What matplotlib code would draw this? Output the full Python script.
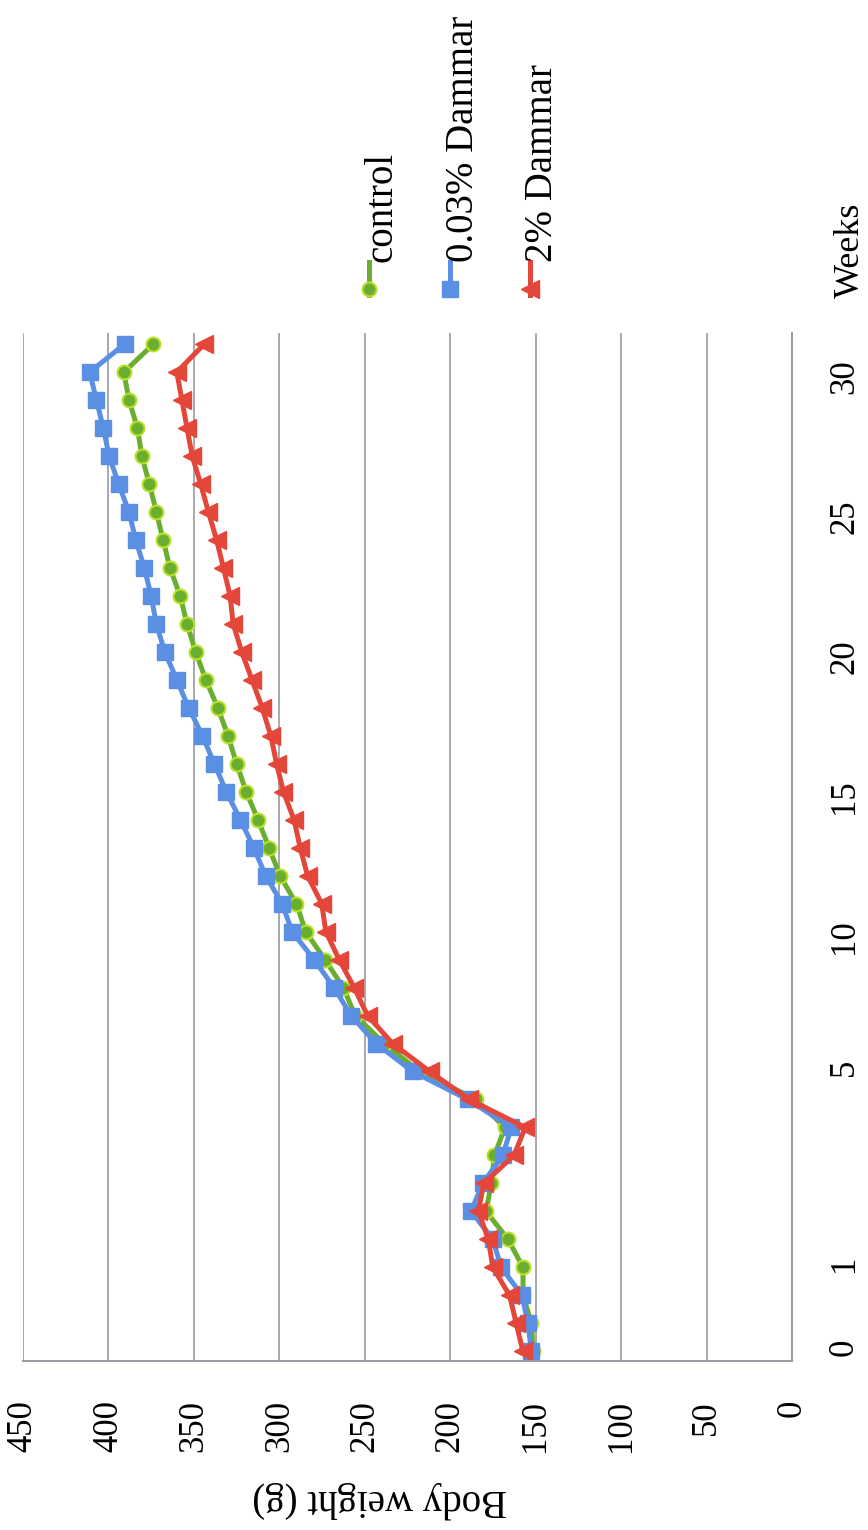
import matplotlib.pyplot as plt
from matplotlib.lines import Line2D

# week categories (Excel-style category axis, only some labelled)
categories = ['0', '', '', '1', '', '', '', '', '', '', '5', '', '', '', '',
              '10', '', '', '', '', '15', '', '', '', '', '20', '', '', '', '',
              '25', '', '', '', '', '30', '']

control = [151.5, 152.5, 157.4, 157.4, 166.2, 179.0, 176.0, 174.1, 168.0, 185.0,
           218.0, 238.6, 255.6, 262.6, 273.3, 284.6, 290.0, 299.7, 306.0, 312.5,
           319.4, 325.0, 330.0, 336.0, 343.0, 349.0, 354.0, 358.0, 364.0, 368.0,
           372.0, 376.0, 380.5, 383.0, 388.0, 391.0, 373.7]
dammar_003 = [152.5, 154.5, 158.0, 170.2, 175.1, 187.8, 181.0, 169.2, 164.3, 189.8,
              222.0, 243.4, 258.0, 268.0, 279.7, 292.5, 298.4, 308.0, 315.0, 322.8,
              331.0, 338.0, 345.0, 353.0, 360.0, 367.0, 372.0, 375.0, 379.0, 384.0,
              388.0, 394.0, 399.6, 403.0, 407.0, 411.0, 390.6]
dammar_2 = [157.5, 161.4, 165.3, 175.1, 177.7, 183.5, 180.4, 162.7, 156.1, 188.8,
            212.0, 233.7, 248.4, 256.2, 265.0, 272.8, 275.2, 283.5, 287.8, 291.4,
            297.6, 301.6, 305.0, 310.0, 316.0, 322.0, 327.0, 328.8, 332.7, 336.7,
            341.5, 346.0, 351.0, 354.0, 357.0, 360.0, 344.0]

series_names = ['control', '0.03% Dammar', '2% Dammar']
weight_ticks = [0, 50, 100, 150, 200, 250, 300, 350, 400, 450]

plt.rcParams['font.family'] = ['Liberation Serif', 'DejaVu Serif']

fig = plt.figure(figsize=(8.68, 15.3), dpi=100)
W, H = 868, 1530
ax = fig.add_axes([23 / W, 1 - 1361 / H, (792 - 23) / W, (1361 - 333) / H])

styles = [
    dict(color='#6aae2f', marker='o', markersize=10, markerfacecolor='#6aae2f',
         markeredgecolor='#b8e02a', markeredgewidth=1.5),
    dict(color='#5b8fe3', marker='s', markersize=11, markerfacecolor='#5b8fe3',
         markeredgecolor='#5b8fe3'),
    dict(color='#e5463a', marker='<', markersize=13, markerfacecolor='#e5463a',
         markeredgecolor='#e5463a'),
]

pos = list(range(len(categories)))
for vals, st in zip([control, dammar_003, dammar_2], styles):
    ax.plot(vals, pos, lw=3.6, solid_joinstyle='round', clip_on=False, **st)

ax.set_xlim(450, 0)
ax.set_ylim(-0.35, len(categories) - 0.6)

ax.set_xticks(weight_ticks)
ax.set_xticklabels([str(v) for v in weight_ticks])
ax.grid(axis='x', color='#9a9aa2', lw=1.2)
ax.set_axisbelow(True)

ax.yaxis.tick_right()
ax.set_yticks(pos)
ax.set_yticklabels(categories)

ax.tick_params(axis='x', length=0, pad=28, labelsize=25, labelrotation=90)
ax.tick_params(axis='y', length=0, pad=26, labelsize=25, labelrotation=90)

for s in ['top', 'left']:
    ax.spines[s].set_visible(False)
for s in ['bottom', 'right']:
    ax.spines[s].set_color('#9a9aa2')
    ax.spines[s].set_linewidth(1.4)

fig.text(380 / W, 1 - 1500 / H, 'Body weight (g)', rotation=180,
         ha='center', va='center', fontsize=28)
fig.text(850 / W, 1 - 250 / H, 'Weeks', rotation=90,
         ha='center', va='center', fontsize=26)

# legend drawn rotated, like the rest of the chart
leg_x = [369, 450, 530]
for name, st, lx in zip(series_names, styles, leg_x):
    fig.add_artist(Line2D([lx / W, lx / W], [1 - 295 / H, 1 - 262 / H],
                          transform=fig.transFigure, lw=3.6, color=st['color']))
    fig.add_artist(Line2D([lx / W], [1 - 289 / H], transform=fig.transFigure,
                          ls='none', **{k: v for k, v in st.items() if k != 'color'},
                          color=st['color']))
    fig.text((lx + 13) / W, 1 - 262 / H, name, rotation=90,
             ha='center', va='bottom', fontsize=28)

fig.savefig('out.png', dpi=100)
